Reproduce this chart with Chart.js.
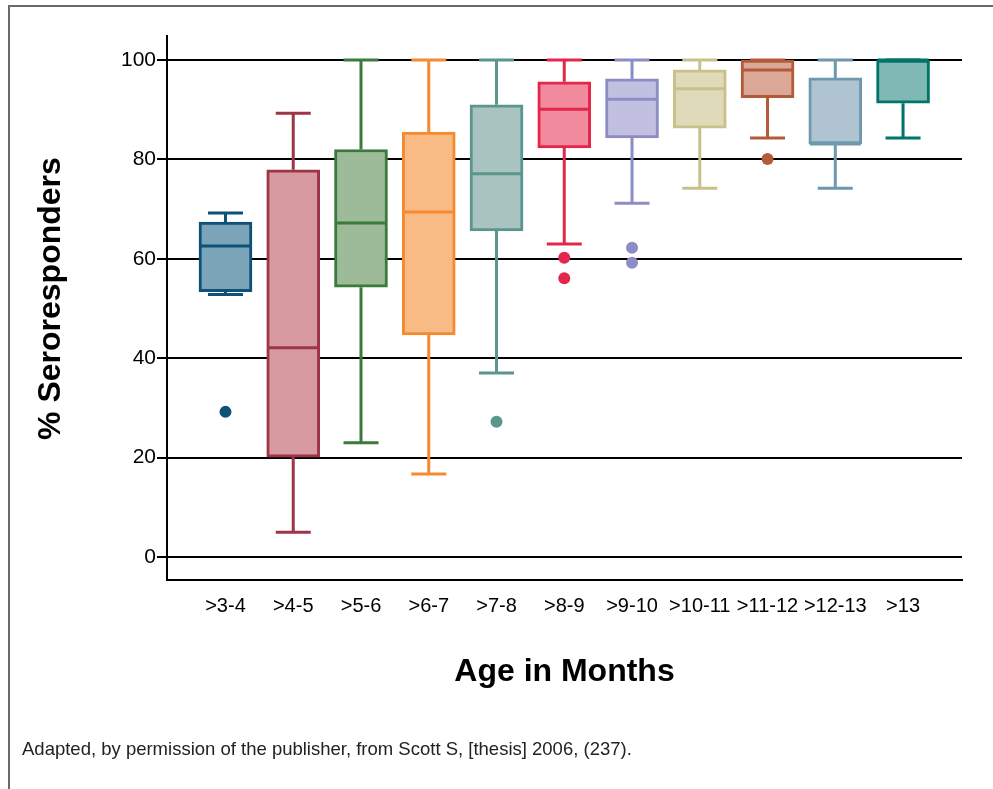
<!DOCTYPE html>
<html>
<head>
<meta charset="utf-8">
<script src="https://cdn.jsdelivr.net/npm/chart.js"></script>
<style>
    html, body { margin: 0; padding: 0; background: #fff; }
    #wrap { position: relative; width: 993px; height: 789px; overflow: hidden; }
    #frame { position: absolute; left: 8px; top: 5px; width: 1000px; height: 800px;
             border-top: 2px solid #6a6a6a; border-left: 2px solid #6a6a6a; }
    #note { position: absolute; left: 22px; top: 738px; font: 18.5px "Liberation Sans", Arial, sans-serif; color: #222; }
</style>
</head>
<body>
<div id="wrap">
    <canvas id="boxChart" width="993" height="789"></canvas>
    <div id="frame"></div>
    <div id="note">Adapted, by permission of the publisher, from Scott S, [thesis] 2006, (237).</div>
</div>

<script>
/* ---------------- DATA ---------------- */

const categories = ['>3-4', '>4-5', '>5-6', '>6-7', '>7-8', '>8-9', '>9-10', '>10-11', '>11-12', '>12-13', '>13'];

const whiskerLow  = [52.8, 5.0, 23.0, 16.7, 37.0, 63.0, 71.2, 74.2, 84.3, 74.2, 84.3];
const q1          = [53.4, 20.1, 54.3, 44.7, 65.6, 82.3, 84.3, 86.3, 92.4, 83.1, 91.3];
const medians     = [62.6, 42.1, 67.2, 69.4, 77.1, 90.1, 92.1, 94.2, 98.0, 83.1, 100];
const q3          = [67.4, 77.9, 82.0, 85.5, 91.0, 95.6, 96.2, 98.0, 100, 96.4, 100];
const whiskerHigh = [69.2, 89.3, 100, 100, 100, 100, 100, 100, 100, 100, 100];

// outliers: index of the age group, and value
const outlierGroup  = [0, 4, 5, 5, 6, 6, 8];
const outlierValues = [29.2, 27.2, 60.2, 56.1, 62.2, 59.2, 80.1];

const yTicks = [0, 20, 40, 60, 80, 100];

const lineColors = ['#0d5177', '#9e3546', '#3b7a3d', '#f68a2f', '#5a968d', '#e3264a',
                    '#8d8dc6', '#c8c288', '#b35a3b', '#6e98ae', '#00746a'];
const fillColors = ['#7ba4b9', '#d79aa0', '#9dbb98', '#f9bb86', '#a9c4c0', '#f28a9e',
                    '#c1c0e1', '#dfdab9', '#dba898', '#afc4d0', '#80b9b3'];

/* ---------------- WHISKERS + MEDIANS ---------------- */

const BOX_W = 53;
const CAP_W = 35;

const boxLines = {
    id: 'boxLines',
    beforeDatasetsDraw(chart) {
        const { ctx, scales: { x, y } } = chart;
        ctx.save();
        ctx.lineWidth = 3;
        categories.forEach((c, i) => {
            const cx = x.getPixelForValue(i);
            ctx.strokeStyle = lineColors[i];
            ctx.beginPath();
            ctx.moveTo(cx, y.getPixelForValue(whiskerLow[i]));
            ctx.lineTo(cx, y.getPixelForValue(q1[i]));
            ctx.moveTo(cx, y.getPixelForValue(q3[i]));
            ctx.lineTo(cx, y.getPixelForValue(whiskerHigh[i]));
            ctx.moveTo(cx - CAP_W / 2, y.getPixelForValue(whiskerLow[i]));
            ctx.lineTo(cx + CAP_W / 2, y.getPixelForValue(whiskerLow[i]));
            ctx.moveTo(cx - CAP_W / 2, y.getPixelForValue(whiskerHigh[i]));
            ctx.lineTo(cx + CAP_W / 2, y.getPixelForValue(whiskerHigh[i]));
            ctx.stroke();
        });
        ctx.restore();
    },
    afterDatasetsDraw(chart) {
        const { ctx, scales: { x, y } } = chart;
        ctx.save();
        ctx.lineWidth = 3;
        categories.forEach((c, i) => {
            const cx = x.getPixelForValue(i);
            const my = y.getPixelForValue(medians[i]);
            ctx.strokeStyle = lineColors[i];
            ctx.beginPath();
            ctx.moveTo(cx - BOX_W / 2 + 1, my);
            ctx.lineTo(cx + BOX_W / 2 - 1, my);
            ctx.stroke();
        });
        ctx.restore();
    },
    afterDraw(chart) {
        // y title, sitting a little above the middle of the axis as in the original
        const { ctx, scales: { y } } = chart;
        ctx.save();
        ctx.translate(51, y.getPixelForValue(52));
        ctx.rotate(-Math.PI / 2);
        ctx.font = 'bold 32px "Liberation Sans", Arial, sans-serif';
        ctx.fillStyle = '#000';
        ctx.textAlign = 'center';
        ctx.textBaseline = 'middle';
        ctx.fillText('% Seroresponders', 0, 0);
        ctx.restore();
    }
};

/* ---------------- CHART ---------------- */

Chart.defaults.font.family = '"Liberation Sans", Arial, sans-serif';
Chart.defaults.color = '#000';

new Chart(document.getElementById('boxChart'), {
    type: 'bar',
    data: {
        datasets: [
            {
                data: categories.map((c, i) => ({ x: i, y: [q1[i], q3[i]] })),
                backgroundColor: fillColors,
                borderColor: lineColors,
                borderWidth: 3,
                borderSkipped: false,
                barThickness: BOX_W,
                order: 2
            },
            {
                type: 'scatter',
                data: outlierGroup.map((g, k) => ({ x: g, y: outlierValues[k] })),
                pointRadius: 6,
                pointBorderWidth: 0,
                pointBackgroundColor: outlierGroup.map(g => lineColors[g]),
                order: 1
            }
        ]
    },
    options: {
        responsive: false,
        animation: false,
        layout: { padding: { left: 28, top: 36, right: 31, bottom: 94 } },
        plugins: {
            legend: { display: false },
            tooltip: { enabled: false }
        },
        scales: {
            x: {
                type: 'linear',
                min: -0.863,
                max: 10.87,
                offset: false,
                afterFit: s => { s.height = 115; },
                afterBuildTicks: s => { s.ticks = categories.map((c, i) => ({ value: i })); },
                grid: { display: false, drawTicks: false, offset: false },
                border: { display: true, color: '#000', width: 2 },
                ticks: {
                    padding: 14,
                    autoSkip: false,
                    maxRotation: 0,
                    font: { size: 20 },
                    callback: v => categories[v]
                },
                title: {
                    display: true,
                    text: 'Age in Months',
                    font: { size: 32, weight: 'bold' }
                }
            },
            y: {
                min: -4.63,
                max: 104.83,
                afterFit: s => { s.width = 139; },
                afterBuildTicks: s => { s.ticks = yTicks.map(v => ({ value: v })); },
                grid: { color: '#000', lineWidth: 2, tickLength: 10 },
                border: { display: true, color: '#000', width: 2 },
                ticks: { padding: 1, font: { size: 21 } },
                title: { display: false }
            }
        }
    },
    plugins: [boxLines]
});
</script>
</body>
</html>
